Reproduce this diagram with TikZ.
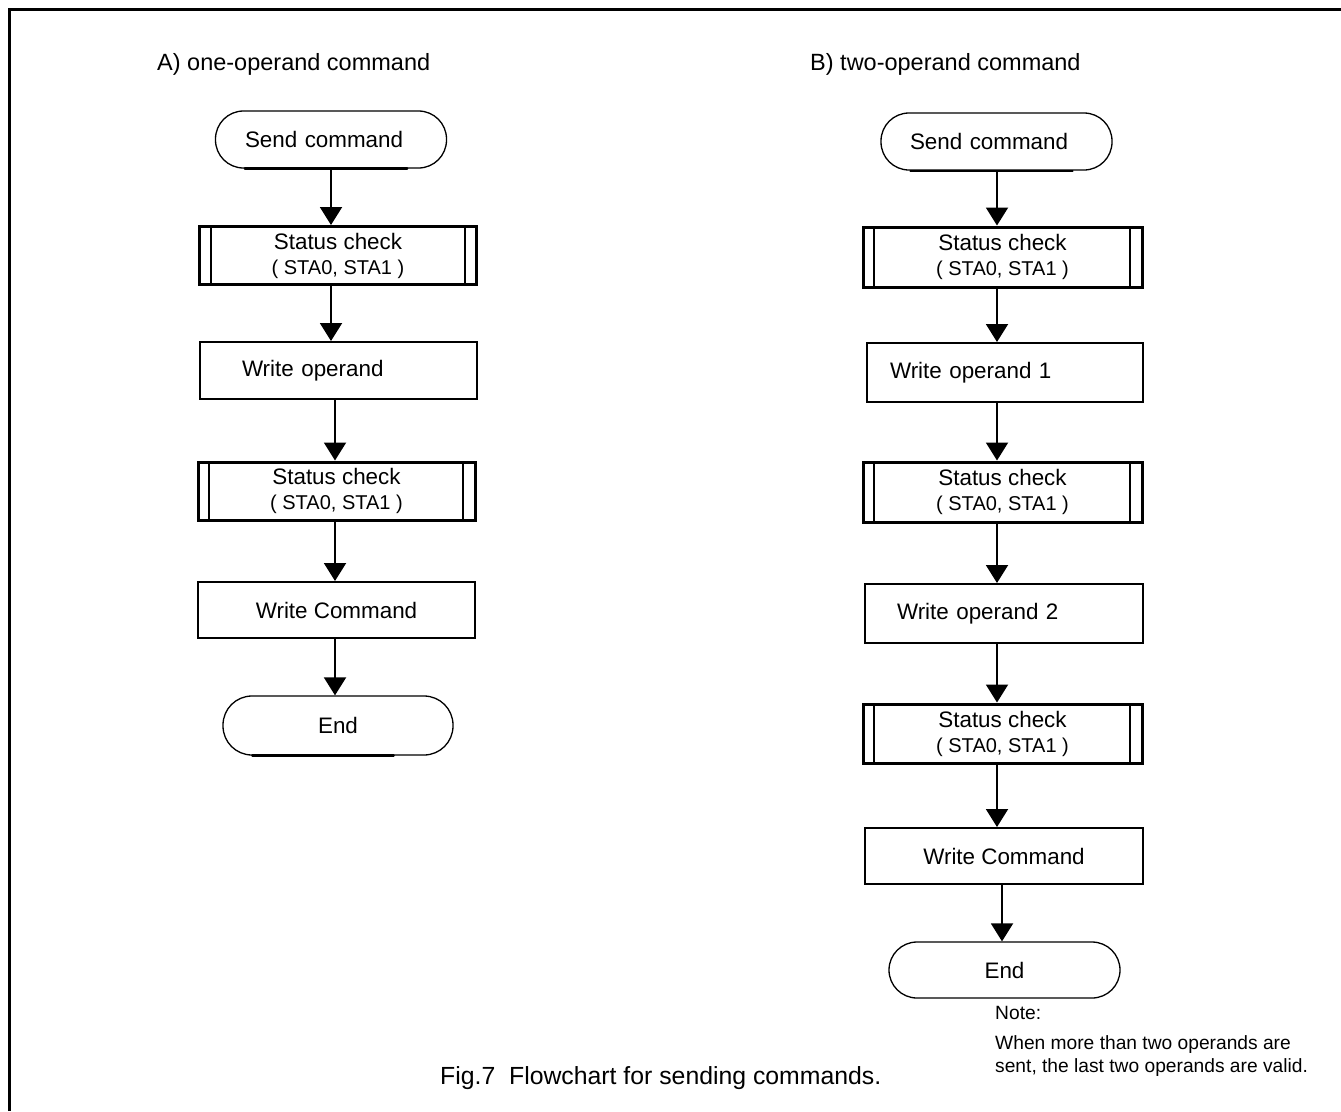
\documentclass[tikz,border=0pt]{standalone}
\usepackage{fontspec}
\setmainfont{Liberation Sans}
\usetikzlibrary{arrows.meta,calc}
\begin{document}
\begin{tikzpicture}[x=1pt,y=-1pt,
  every node/.style={font=\fontsize{22.4}{25}\selectfont, inner sep=0pt},
  term/.style={draw, line width=1.3pt, rounded corners=28pt, minimum width=231pt, minimum height=57pt, align=left},
  proc/.style={draw, line width=2pt, minimum width=277pt, minimum height=57pt},
  subr/.style={draw, line width=3pt, minimum width=277pt, minimum height=58pt, align=center,
    path picture={
      \draw[line width=2pt] ([xshift=11pt]path picture bounding box.north west) -- ([xshift=11pt]path picture bounding box.south west);
      \draw[line width=2pt] ([xshift=-12pt]path picture bounding box.north east) -- ([xshift=-12pt]path picture bounding box.south east);}},
  arr/.style={line width=2pt, -{Triangle[length=18pt,width=22pt]}},
  lbl/.style={anchor=west},
  ttl/.style={anchor=west, font=\fontsize{23.5}{27}\selectfont},
  small/.style={font=\fontsize{19.2}{23}\selectfont},
  shade/.style={line width=2.6pt, line cap=round}]
\useasboundingbox (0,0) rectangle (1341,1111);
% frame
\draw[line width=3pt] (9,1111) -- (9,9) -- (1341,9);
% titles
\node[ttl] (tA) at (157,64) {A) one-operand command};
\node[ttl] (tB) at (810,64) {B) two-operand command};
% column A
\node[term, text width=172pt] (sA) at (331,139.5) {Send command};
\node[subr] (cA1) at (338,255.5) {Status check\\{\fontsize{20}{24}\selectfont ( STA0, STA1 )}};
\node[proc, text width=193pt, align=left] (wA1) at (338.5,370.5) {Write operand};
\node[subr] (cA2) at (336.5,491) {Status check\\{\fontsize{20}{24}\selectfont ( STA0, STA1 )}};
\node[proc, minimum height=56pt] (wA2) at (336.5,610) {Write Command};
\node[term, minimum width=230pt, minimum height=59pt, rounded corners=29pt, align=center] (eA) at (338,725.5) {End};
\draw[shade] ([xshift=30pt]sA.south west) -- ([xshift=-40pt]sA.south east);
\draw[shade] ([xshift=30pt]eA.south west) -- ([xshift=-60pt]eA.south east);
\coordinate (axA) at (331,0);
\coordinate (axA2) at (335,0);
\draw[arr] (sA.south -| axA) -- (cA1.north -| axA);
\draw[arr] (cA1.south -| axA) -- (wA1.north -| axA);
\draw[arr] (wA1.south -| axA2) -- (cA2.north -| axA2);
\draw[arr] (cA2.south -| axA2) -- (wA2.north -| axA2);
\draw[arr] (wA2.south -| axA2) -- (eA.north -| axA2);
% column B
\node[term, text width=173pt] (sB) at (996.5,141.5) {Send command};
\node[subr, minimum width=279pt, minimum height=60pt] (cB1) at (1002.5,257) {Status check\\{\fontsize{20}{24}\selectfont ( STA0, STA1 )}};
\node[proc, minimum width=276pt, minimum height=59pt, text width=230pt, align=left] (wB1) at (1005,372.5) {Write operand 1};
\node[subr, minimum width=279pt, minimum height=60pt] (cB2) at (1002.5,492) {Status check\\{\fontsize{20}{24}\selectfont ( STA0, STA1 )}};
\node[proc, minimum width=278pt, minimum height=59pt, text width=214pt, align=left] (wB2) at (1004,613.5) {Write operand 2};
\node[subr, minimum width=279pt, minimum height=59pt] (cB3) at (1002.5,733.5) {Status check\\{\fontsize{20}{24}\selectfont ( STA0, STA1 )}};
\node[proc, minimum width=278pt, minimum height=56pt] (wB3) at (1004,856) {Write Command};
\node[term, minimum width=231pt, minimum height=56pt, align=center] (eB) at (1004.5,970) {End};
\draw[shade, line width=2pt] ([xshift=30pt]sB.south west) -- ([xshift=-40pt]sB.south east);
\coordinate (axB) at (997,0);
\coordinate (axB2) at (1002,0);
\draw[arr] (sB.south -| axB) -- (cB1.north -| axB);
\draw[arr] (cB1.south -| axB) -- (wB1.north -| axB);
\draw[arr] (wB1.south -| axB) -- (cB2.north -| axB);
\draw[arr] (cB2.south -| axB) -- (wB2.north -| axB);
\draw[arr] (wB2.south -| axB) -- (cB3.north -| axB);
\draw[arr] (cB3.south -| axB) -- (wB3.north -| axB);
\draw[arr] (wB3.south -| axB2) -- (eB.north -| axB2);
% note and caption
\node[lbl, small] (note) at (995,1013) {Note:};
\node[lbl, small] (n1) at (995,1045) {When more than two operands are};
\node[lbl, small] (n2) at (995,1068) {sent, the last two operands are valid.};
\node[lbl, font=\fontsize{24.8}{28}\selectfont] (cap) at (440,1078) {Fig.7\ \ Flowchart for sending commands.};
\end{tikzpicture}
\end{document}
